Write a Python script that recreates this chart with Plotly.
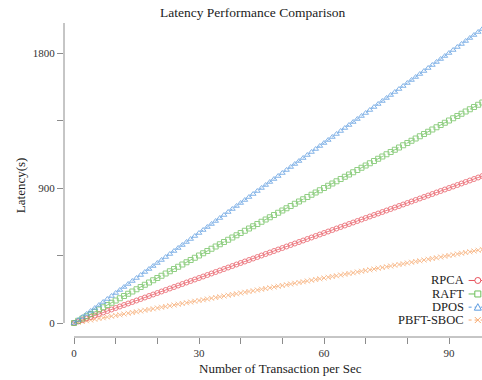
import plotly.graph_objects as go

tps = [0,1,2,3,4,5,6,7,8,9,10,11,12,13,14,15,16,17,18,19,20,21,22,23,24,25,26,27,28,29,30,
       31,32,33,34,35,36,37,38,39,40,41,42,43,44,45,46,47,48,49,50,51,52,53,54,55,56,57,58,59,60,
       61,62,63,64,65,66,67,68,69,70,71,72,73,74,75,76,77,78,79,80,81,82,83,84,85,86,87,88,89,90,
       91,92,93,94,95,96,97,98,99,100]

rpca = [0,10,20,30,40,50,60,70,80,90,100,110,120,130,140,150,160,170,180,190,200,
        210,220,230,240,250,260,270,280,290,300,310,320,330,340,350,360,370,380,390,400,
        410,420,430,440,450,460,470,480,490,500,510,520,530,540,550,560,570,580,590,600,
        610,620,630,640,650,660,670,680,690,700,710,720,730,740,750,760,770,780,790,800,
        810,820,830,840,850,860,870,880,890,900,910,920,930,940,950,960,970,980,990,1000]

raft = [0,15,30,45,60,75,90,105,120,135,150,165,180,195,210,225,240,255,270,285,300,
        315,330,345,360,375,390,405,420,435,450,465,480,495,510,525,540,555,570,585,600,
        615,630,645,660,675,690,705,720,735,750,765,780,795,810,825,840,855,870,885,900,
        915,930,945,960,975,990,1005,1020,1035,1050,1065,1080,1095,1110,1125,1140,1155,1170,1185,1200,
        1215,1230,1245,1260,1275,1290,1305,1320,1335,1350,1365,1380,1395,1410,1425,1440,1455,1470,1485,1500]

dpos = [0,20,40,60,80,100,120,140,160,180,200,220,240,260,280,300,320,340,360,380,400,
        420,440,460,480,500,520,540,560,580,600,620,640,660,680,700,720,740,760,780,800,
        820,840,860,880,900,920,940,960,980,1000,1020,1040,1060,1080,1100,1120,1140,1160,1180,1200,
        1220,1240,1260,1280,1300,1320,1340,1360,1380,1400,1420,1440,1460,1480,1500,1520,1540,1560,1580,1600,
        1620,1640,1660,1680,1700,1720,1740,1760,1780,1800,1820,1840,1860,1880,1900,1920,1940,1960,1980,2000]

pbft = [0,5,10,15,20,25,30,35,40,45,50,55,60,65,70,75,80,85,90,95,100,
        105,110,115,120,125,130,135,140,145,150,155,160,165,170,175,180,185,190,195,200,
        205,210,215,220,225,230,235,240,245,250,255,260,265,270,275,280,285,290,295,300,
        305,310,315,320,325,330,335,340,345,350,355,360,365,370,375,380,385,390,395,400,
        405,410,415,420,425,430,435,440,445,450,455,460,465,470,475,480,485,490,495,500]

names = ["RPCA", "RAFT", "DPOS", "PBFT-SBOC"]
series = [rpca, raft, dpos, pbft]
colors = ["#e8525c", "#6cbf5a", "#5b9be0", "#f8aa70"]
symbols = ["circle-open", "square-open", "triangle-up-open", "x-thin-open"]
dashes = ["solid", "dash", "dot", "dot"]

FONT = "Liberation Serif"
fig = go.Figure()
for i in [3, 0, 1, 2]:
    fig.add_trace(go.Scatter(
        x=tps, y=series[i], name=names[i], mode="lines+markers",
        line=dict(color=colors[i], width=1, dash=dashes[i]),
        marker=dict(symbol=symbols[i], size=5, color=colors[i], line=dict(width=1, color=colors[i])),
        opacity=0.75, showlegend=False, cliponaxis=True))

axis_col = "#8c8c8c"
fig.update_layout(
    width=482, height=380,
    margin=dict(l=64, r=0, t=23, b=43),
    paper_bgcolor="white", plot_bgcolor="white",
    font=dict(family=FONT, size=11, color="#333333"),
    showlegend=False,
    xaxis=dict(range=[-2.4, 97.92], showgrid=False, zeroline=False, showline=False,
               tickmode="array", tickvals=[0, 30, 60, 90], ticks="outside", ticklen=6,
               tickcolor=axis_col, tickfont=dict(family=FONT, size=11, color="#333333"),
               minor=dict(tickmode="array", tickvals=[10, 20, 40, 50, 70, 80], ticks="outside",
                          ticklen=6, tickcolor=axis_col)),
    yaxis=dict(range=[-93.3, 2000], showgrid=False, zeroline=False, showline=False,
               tickmode="array", tickvals=[0, 900, 1800], ticks="outside", ticklen=6,
               tickcolor=axis_col, tickfont=dict(family=FONT, size=11, color="#333333"),
               minor=dict(tickmode="array", tickvals=[450, 1350], ticks="outside",
                          ticklen=6, tickcolor=axis_col)),
)

shapes = [
    dict(type="line", xref="paper", yref="y", x0=0, x1=0, y0=0, y1=2000,
         line=dict(color=axis_col, width=1)),
    dict(type="line", xref="x", yref="paper", x0=tps[0], x1=tps[-1], y0=0, y1=0,
         line=dict(color=axis_col, width=1)),
]

leg_y = [0.180, 0.137, 0.095, 0.054]
annotations = []
for i, nm in enumerate(names):
    annotations.append(dict(text=nm, xref="paper", yref="paper", x=0.962, y=leg_y[i],
                            xanchor="right", yanchor="middle", showarrow=False,
                            font=dict(family=FONT, size=12.5, color="#222222")))
    shapes.append(dict(type="line", xref="paper", yref="paper", x0=0.968, x1=1.02,
                       y0=leg_y[i], y1=leg_y[i],
                       line=dict(color=colors[i], width=1, dash=dashes[i])))
mx = 0.99
for i in range(4):
    c = colors[i]
    base = dict(xref="paper", yref="paper", xsizemode="pixel", ysizemode="pixel",
                xanchor=mx, yanchor=leg_y[i], line=dict(color=c, width=1),
                fillcolor="white")
    if i == 0:
        shapes.append(dict(type="circle", x0=-3, x1=3, y0=-3, y1=3, **base))
    elif i == 1:
        shapes.append(dict(type="rect", x0=-3, x1=3, y0=-3, y1=3, **base))
    elif i == 2:
        shapes.append(dict(type="path", path="M -3.5,-3 L 3.5,-3 L 0,3.5 Z", **base))
    else:
        shapes.append(dict(type="path", path="M -3,-3 L 3,3 M -3,3 L 3,-3", **base))

annotations += [
    dict(text="Latency Performance Comparison", xref="paper", yref="paper", x=0.451, y=1.035,
         xanchor="center", yanchor="middle", showarrow=False,
         font=dict(family=FONT, size=13.5, color="#222222")),
    dict(text="Latency(s)", xref="paper", yref="paper", x=-0.105, y=0.484, textangle=-90,
         xanchor="center", yanchor="middle", showarrow=False,
         font=dict(family=FONT, size=13, color="#222222")),
    dict(text="Number of Transaction per Sec", xref="paper", yref="paper", x=0.519, y=-0.099,
         xanchor="center", yanchor="middle", showarrow=False,
         font=dict(family=FONT, size=13, color="#222222")),
]
fig.update_layout(shapes=shapes, annotations=annotations)

fig.write_html("out.html", config={"displayModeBar": False},
               post_script="document.body.style.margin='0';document.body.style.padding='0';")
